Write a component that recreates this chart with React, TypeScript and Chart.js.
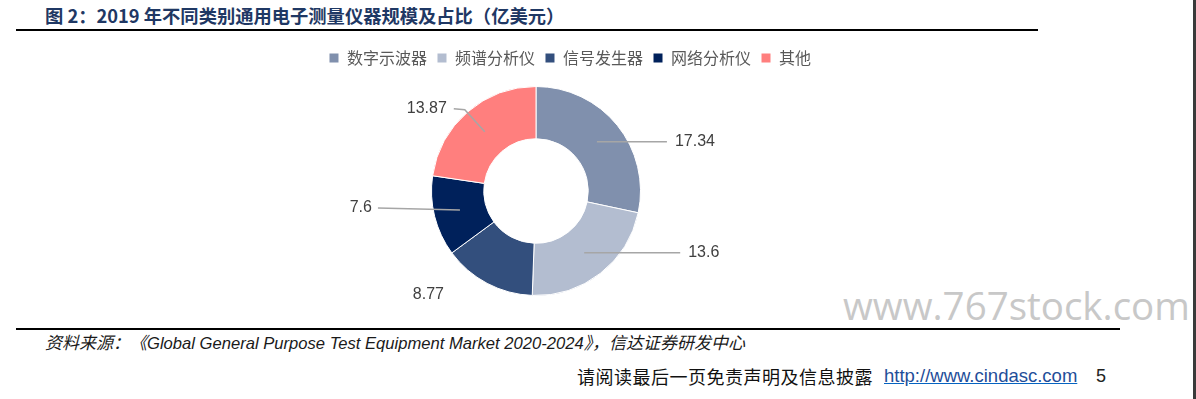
import React, { useEffect, useRef } from "react";
import { Chart, registerables, layouts } from "chart.js";

Chart.register(...registerables);

const categories = ["数字示波器", "频谱分析仪", "信号发生器", "网络分析仪", "其他"];
const values = [17.34, 13.6, 8.77, 7.6, 13.87];
const valueLabels = ["17.34", "13.6", "8.77", "7.6", "13.87"];
const colors = ["#8090AD", "#B3BDD0", "#334F7D", "#00215B", "#FF7F7E"];

const titleText = "图 2：2019 年不同类别通用电子测量仪器规模及占比（亿美元）";
const sourcePrefix = "资料来源：《";
const sourceEnglish = "Global General Purpose Test Equipment Market 2020-2024";
const sourceSuffix = "》，信达证券研发中心";
const footerText = "请阅读最后一页免责声明及信息披露";
const footerLink = "http://www.cindasc.com";
const pageNumber = "5";
const watermark = "www.767stock.com";

// label leader-line offsets relative to the mid-point of each arc
const labelLayout: { path: number[][]; dx: number; dy: number; align: CanvasTextAlign }[] = [
  { path: [[70, 0]], dx: 78, dy: 0, align: "left" },
  { path: [[96, 0]], dx: 104, dy: 0, align: "left" },
  { path: [], dx: -71, dy: 34, align: "center" },
  { path: [[-82, -2]], dx: -88, dy: -2, align: "right" },
  { path: [[-20, -22], [-31, -23]], dx: -38, dy: -23, align: "right" },
];

function makeSpacer(position: string, size: number) {
  return {
    position,
    weight: 0,
    fullSize: false,
    options: {},
    left: 0,
    top: 0,
    right: 0,
    bottom: 0,
    width: 0,
    height: 0,
    isHorizontal() {
      return position === "top" || position === "bottom";
    },
    update(maxWidth: number, maxHeight: number) {
      if (this.isHorizontal()) {
        this.width = maxWidth;
        this.height = size;
      } else {
        this.width = size;
        this.height = maxHeight;
      }
    },
    draw() {},
  };
}

const spacerPlugin = {
  id: "spacers",
  beforeInit(chart: any) {
    layouts.addBox(chart, makeSpacer("top", 10) as any);
    layouts.addBox(chart, makeSpacer("right", 68) as any);
    layouts.addBox(chart, makeSpacer("bottom", 24) as any);
  },
};

const labelPlugin = {
  id: "valueLabels",
  afterDatasetsDraw(chart: any) {
    const ctx = chart.ctx;
    const meta = chart.getDatasetMeta(0);
    ctx.save();
    meta.data.forEach((arc: any, i: number) => {
      const p = arc.getProps(["x", "y", "startAngle", "endAngle", "innerRadius", "outerRadius"], true);
      const mid = (p.startAngle + p.endAngle) / 2;
      const r = (p.innerRadius + p.outerRadius) / 2;
      const ax = p.x + Math.cos(mid) * r;
      const ay = p.y + Math.sin(mid) * r;
      const lay = labelLayout[i];
      if (lay.path.length) {
        ctx.beginPath();
        ctx.moveTo(ax, ay);
        lay.path.forEach(([dx, dy]) => ctx.lineTo(ax + dx, ay + dy));
        ctx.strokeStyle = "#A6A6A6";
        ctx.lineWidth = 1.5;
        ctx.stroke();
      }
      ctx.fillStyle = "#404040";
      ctx.font = '16px "Liberation Sans", Arial, sans-serif';
      ctx.textAlign = lay.align;
      ctx.textBaseline = "middle";
      ctx.fillText(valueLabels[i], ax + lay.dx, ay + lay.dy);
    });
    ctx.restore();
  },
};

function DoughnutChart() {
  const ref = useRef<HTMLCanvasElement | null>(null);
  useEffect(() => {
    if (!ref.current) return;
    const chart = new Chart(ref.current, {
      type: "doughnut",
      data: {
        labels: categories,
        datasets: [
          {
            data: values,
            backgroundColor: colors,
            borderColor: "#FFFFFF",
            borderWidth: 1,
          },
        ],
      },
      options: {
        animation: false,
        responsive: true,
        maintainAspectRatio: false,
        cutout: "50%",
        layout: { padding: 0 },
        plugins: {
          legend: {
            position: "top",
            labels: {
              boxWidth: 10,
              boxHeight: 10,
              padding: 10,
              color: "#595959",
              font: { size: 16, family: '"Noto Sans CJK SC", sans-serif' },
            },
          },
          tooltip: { enabled: false },
        },
      },
      plugins: [spacerPlugin, labelPlugin],
    });
    return () => chart.destroy();
  }, []);
  return (
    <div style={{ position: "absolute", left: 230, top: 40, width: 680, height: 280 }}>
      <canvas ref={ref} />
    </div>
  );
}

export default function App() {
  return (
    <div
      style={{
        position: "absolute",
        left: 0,
        top: 0,
        width: 1196,
        height: 399,
        background: "#FFFFFF",
        overflow: "hidden",
        fontFamily: '"Noto Sans CJK SC", sans-serif',
      }}
    >
      <div
        style={{
          position: "absolute",
          left: 45,
          top: 3,
          fontSize: 18.3,
          fontWeight: 700,
          color: "#1F3864",
          whiteSpace: "nowrap",
          lineHeight: "24px",
        }}
      >
        {titleText}
      </div>
      <div style={{ position: "absolute", left: 16, top: 29, width: 1022, height: 2, background: "#000" }} />

      <div
        style={{
          position: "absolute",
          left: 843,
          top: 282,
          fontSize: 38.5,
          color: "#C8C8C8",
          fontFamily: '"Open Sans", sans-serif',
          whiteSpace: "nowrap",
          lineHeight: "46px",
        }}
      >
        {watermark}
      </div>

      <DoughnutChart />

      <div style={{ position: "absolute", left: 16, top: 328, width: 1104, height: 2, background: "#000" }} />

      <div
        style={{
          position: "absolute",
          left: 45,
          top: 331,
          fontSize: 17,
          fontStyle: "italic",
          color: "#1a1a1a",
          whiteSpace: "nowrap",
          lineHeight: "22px",
        }}
      >
        <span>{sourcePrefix}</span>
        <span style={{ fontFamily: '"Liberation Sans", Arial, sans-serif', fontSize: 16.6 }}>{sourceEnglish}</span>
        <span>{sourceSuffix}</span>
      </div>

      <div
        style={{
          position: "absolute",
          left: 577,
          top: 364,
          fontSize: 18,
          color: "#111",
          whiteSpace: "nowrap",
          lineHeight: "24px",
          letterSpacing: 0.5,
        }}
      >
        {footerText}
      </div>
      <div
        style={{
          position: "absolute",
          left: 884,
          top: 364,
          fontSize: 18.5,
          color: "#1F4E99",
          fontFamily: '"Liberation Sans", Arial, sans-serif',
          whiteSpace: "nowrap",
          lineHeight: "24px",
          textDecoration: "underline",
          textDecorationColor: "#0563C1",
        }}
      >
        {footerLink}
      </div>
      <div
        style={{
          position: "absolute",
          left: 1096,
          top: 364,
          fontSize: 18,
          color: "#222",
          fontFamily: '"Liberation Sans", Arial, sans-serif',
          lineHeight: "24px",
        }}
      >
        {pageNumber}
      </div>

      <div style={{ position: "absolute", left: 1193, top: 0, width: 3, height: 399, background: "#3A3A3A" }} />
    </div>
  );
}
